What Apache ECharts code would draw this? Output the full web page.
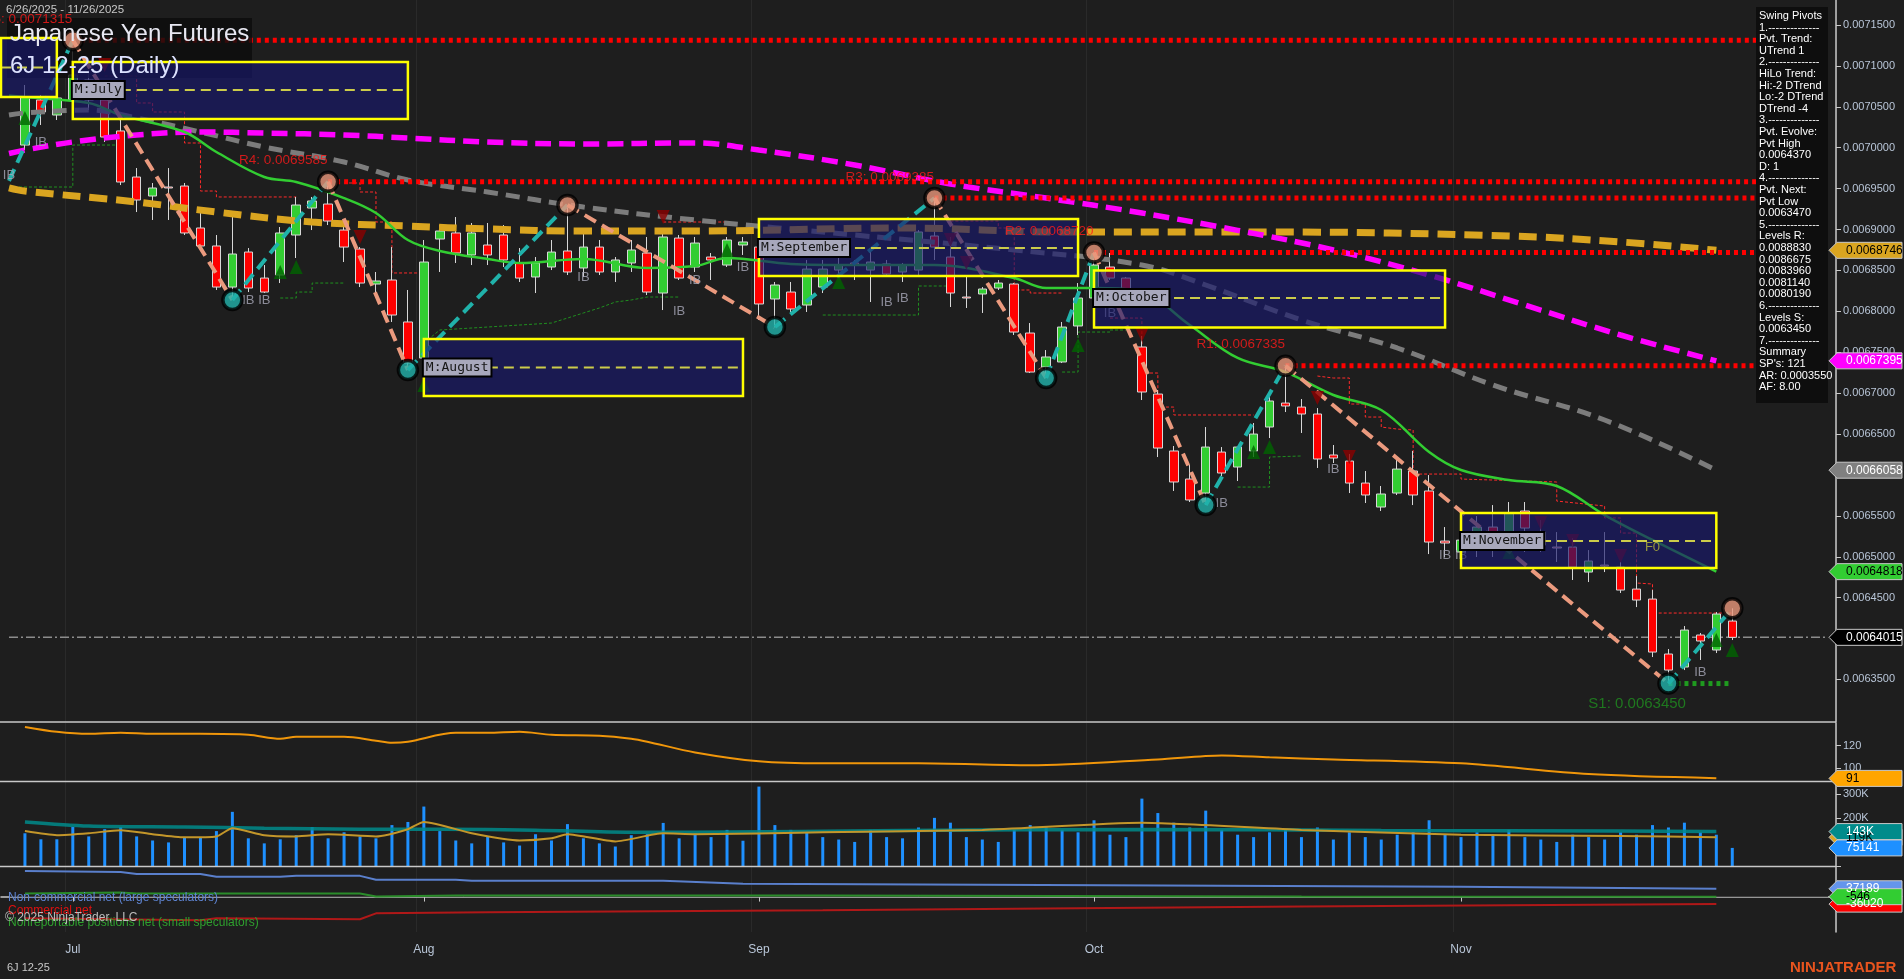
<!DOCTYPE html>
<html><head><meta charset="utf-8">
<script src="https://cdn.jsdelivr.net/npm/echarts@6/dist/echarts.min.js"></script>
<style>html,body{margin:0;padding:0;background:#1e1e1e;overflow:hidden}#c{width:1904px;height:979px}</style>
</head><body><div id="c"></div>
<script>
// ---------------- DATA (prices in units of 0.0000001) ----------------
const holidays = ['2025-07-04','2025-09-01','2025-11-27'];
const firstDay = '2025-06-26', lastDay = '2025-11-26';

const open = [70033,70584,70400,70584,70828,70584,70205,69642,69410,69520,
 69532,69019,68799,68297,68725,68407,68444,68933,69263,69312,
 68994,68762,68334,68383,67870,67429,68884,68958,68689,68811,
 68933,68591,68420,68542,68738,68530,68786,68481,68591,68713,
 68224,68896,68542,68664,68566,68811,68786,68151,68236,68077,
 68297,68505,68591,68505,68579,68481,68505,68921,68664,68175,
 68212,68285,68334,67735,67319,67381,67821,68163,68542,68407,
 67564,66989,66293,65950,65779,66280,66097,66293,66586,66879,
 66830,66745,66244,66170,65901,65608,65779,66048,65804,65192,
 65058,65119,65363,65119,65559,65302,65119,65119,64813,64899,
 64874,64605,64483,63811,63652,64043,63860,64214];
const close = [70620,70437,70608,70889,70584,70131,69581,69361,69508,69508,
 68958,68799,68297,68701,68285,68236,68958,69300,69349,69104,
 68786,68346,68371,67955,67368,68603,68982,68713,68958,68689,
 68628,68407,68591,68725,68481,68786,68481,68628,68750,68236,
 68909,68407,68835,68628,68872,68848,68090,68322,68029,68517,
 68517,68566,68566,68603,68456,68566,68970,68786,68224,68163,
 68273,68346,67747,67258,67442,67808,68163,68566,68407,68261,
 67014,66329,65914,65694,66341,66024,66341,66500,66904,66843,
 66745,66195,66207,65901,65755,65767,66072,65755,65180,65168,
 65204,65363,65143,65535,65351,65143,65107,64874,64948,64887,
 64593,64471,63835,63615,64104,63970,64300,64015];
const low = [69972,70278,70339,70522,70461,70070,69544,69214,69117,69117,
 68933,68786,68261,68139,68236,68224,68346,68652,68994,69055,
 68603,68297,68224,67870,67283,67330,68481,68591,68566,68566,
 68542,68359,68224,68505,68444,68420,68444,68359,68481,68200,
 68016,68383,68481,68383,68542,68689,67894,67808,67992,67992,
 68224,68420,68383,68114,68420,68359,68444,68628,68053,68041,
 67980,68261,67711,67246,67185,67368,67711,68077,68383,68175,
 66916,66219,65804,65669,65632,65987,65926,66219,66451,66769,
 66513,66085,66146,65779,65657,65559,65755,65632,65033,64997,
 64997,64997,64997,65058,65058,65058,64936,64716,64691,64813,
 64557,64385,63774,63450,63615,63738,63823,63982];
const high = [70767,70645,70706,71315,70950,70706,70339,69752,69569,69752,
 69569,69202,68933,69178,68774,68566,69031,69398,69398,69585,
 69031,68786,68481,68786,68261,68872,69055,69153,69080,69080,
 69055,68774,68664,68872,69300,68958,68872,68664,68872,68909,
 68958,68933,68909,68713,68909,68909,68872,68359,68359,68628,
 68628,68713,68628,68750,68628,68591,68994,69385,68909,68420,
 68297,68383,68346,67857,67527,67870,68346,68720,68713,68420,
 67700,67038,66354,66121,66586,66341,66341,66635,66953,67335,
 66928,66818,66366,66256,66048,65865,66182,66293,65999,65363,
 65266,65498,65632,65669,65669,65449,65302,65229,65082,65302,
 64936,64764,64593,63872,64153,64068,64324,64370];

// moving averages [bar, value]
const smaGreen = [[-1,70640],[0,70620],[4,70547],[6,70400],[10,70192],[12,69948],[15,69642],[17,69581],[20,69385],[22,69202],[24,68872],[26,68738],[29,68640],[31,68591],[35,68640],[39,68530],[42,68554],[44,68652],[48,68579],[52,68566],[57,68566],[62,68407],[64,68285],[67,68285],[70,68236],[73,67833],[76,67430],[79,67258],[82,66977],[85,66794],[88,66280],[90,66060],[93,65938],[96,65865],[99,65510],[102,65205],[106,64818]];
const maMagenta = [[-1,69930],[0,69972],[3,70070],[7,70156],[11,70192],[15,70180],[20,70156],[24,70119],[29,70070],[35,70046],[42,70058],[46,69972],[52,69789],[58,69557],[64,69385],[70,69202],[76,68990],[82,68750],[88,68444],[94,68077],[100,67711],[106,67395]];
const maGold = [[-1,69510],[0,69471],[7,69337],[12,69214],[18,69092],[24,69043],[29,69007],[35,68982],[42,68982],[55,69019],[65,68970],[78,68970],[93,68921],[100,68848],[106,68746]];
const maGrey = [[-1,70400],[0,70425],[4,70461],[7,70364],[11,70192],[15,70009],[20,69825],[24,69606],[29,69459],[35,69275],[42,69117],[52,68933],[62,68750],[70,68566],[74,68322],[80,67894],[86,67552],[92,67100],[99,66672],[106,66058]];

// swing pivots
const swingStart = [-1,69594];
const pivotHighs = [[3,71315],[19,69585],[34,69300],[57,69385],[67,68720],[79,67335],[107,64370]];
const pivotLows = [[13,68139],[24,67283],[47,67808],[64,67185],[74,65632],[103,63450]];

// support / resistance levels
const levelNames = ['R5','R4','R3','R2','R1','S1'];
const levelValues = [71315,69585,69385,68720,67335,63450];
const levelStartBar = [3,19,57,67,79,103];
const levelEndBar = [113,113,113,113,113,107];
const lastPrice = 64015;

// trailing stop steps
const redStops = [
 [[5,70877],[7,70877],[7,70547],[8,70547],[8,70437],[10,70437],[10,70058],[11,70058],[11,69471],[12,69471],[12,69398],[17,69398]],
 [[20,69569],[21,69569],[21,69459],[22,69459],[22,69092],[23,69092],[23,68469],[25,68469]],
 [[40,69092],[44,69092]],
 [[58,69104],[61,69104],[61,69019],[62,69019],[62,68261],[63,68261],[63,68224],[65,68224]],
 [[68,67918],[70,67918],[70,67246],[71,67246],[71,66830],[72,66830],[72,66733],[77,66733]],
 [[81,67209],[82,67185],[83,67185],[83,66867],[84,66867],[84,66708],[85,66708],[85,66586],[86,66561],[87,66549],[87,66011],[90,66011],[90,65950],[96,65914],[96,65681],[99,65620],[99,65474],[100,65474],[100,65290],[101,65290],[101,64679],[102,64667],[102,64312],[107,64312]]
];
const greenStops = [
 [[-1,69520],[3,69520],[3,70033],[6,70033]],
 [[16,68163],[17,68163],[17,68236],[18,68236],[18,68346],[20,68346]],
 [[25,67613],[26,67772],[33,67857],[34,67918],[35,67980],[36,68041],[37,68114],[38,68139],[39,68175],[41,68175]],
 [[50,67955],[56,67955],[56,68310],[58,68310]],
 [[65,67258],[66,67258],[66,67747],[68,67747],[68,67772],[69,67772]],
 [[76,65852],[78,65852],[78,66219],[80,66232]]
];
const triDown = [[5,71011],[21,68909],[40,69153],[58,68872],[59,68591],[70,67711],[81,66941],[83,66219],[95,65412],[97,65192],[100,65009]];
const triUp = [[0,70364],[16,68481],[17,68542],[25,67099],[44,68750],[51,68359],[66,67589],[77,66280],[78,66341],[93,65058],[106,63982],[107,63860]];
const ibMarks = [[1,70070],[-1,69667],[14,68139],[15,68139],[35,68420],[41,68004],[42,68383],[45,68542],[54,68114],[55,68163],[68,67980],[75,65657],[82,66072],[89,65021],[90,65021],[94,65119],[105,63591]];

// monthly boxes
const boxLabel = ['', 'M:July', 'M:August', 'M:September', 'M:October', 'M:November'];
const boxFirst = [-1, 3, 25, 46, 67, 90];
const boxLast = [2, 24, 45, 66, 89, 106];
const boxTop = [71341, 71048, 67662, 69129, 68499, 65535];
const boxBottom = [70620, 70351, 66965, 68432, 67802, 64862];
const boxMid = [70980, 70706, 67313, 68774, 68163, 65193];

// lower panel 1 (orange oscillator)
const osc = [[0,136.5],[2,132.2],[4,130.4],[6,131.3],[8,130.4],[11,130.4],[14,129.6],[16,126.1],[17,127.8],[20,127.8],[22,124.4],[23,122.6],[24,123.5],[27,131.3],[29,131.3],[31,132.2],[33,129.6],[36,128.7],[38,126.1],[39,123.5],[42,113.9],[46,106.1],[50,104.3],[56,104.3],[63,102.6],[71,107.8],[75,111.3],[78,109.6],[82,107.8],[90,104.3],[98,94.8],[106,91.2]];

// volume (thousands)
const volK = [136,111,111,162,123,153,162,123,106,98,
 119,119,145,225,115,94,111,128,162,115,
 140,123,115,170,183,247,145,106,94,123,
 98,85,132,106,174,115,94,81,128,132,
 179,115,136,120,150,105,330,170,150,140,
 120,110,100,150,120,115,160,200,180,120,
 110,100,150,170,160,150,140,190,130,120,
 280,220,180,160,230,150,130,120,140,150,
 120,160,110,140,120,110,130,140,190,130,
 120,140,130,150,120,110,100,130,120,110,
 140,130,170,160,180,140,130,75.141];
const volTeal = [[0,183],[4,166],[10,162],[15,157],[21,153],[26,153],[32,149],[38,140],[42,140],[55,148],[70,152],[85,148],[100,145],[106,143]];
const volGold = [[0,145],[2,128],[4,136],[6,149],[8,132],[10,119],[12,123],[13,157],[15,128],[17,123],[19,132],[22,123],[24,153],[25,183],[28,136],[31,106],[33,115],[34,132],[37,102],[40,136],[42,132],[50,140],[60,150],[70,180],[80,150],[90,130],[100,125],[106,119]];

// COT net positions (contracts)
const cotNonComm = [[0,122200],[6,117500],[7,108100],[11,108100],[12,94000],[16,94000],[17,98700],[21,98700],[22,79900],[27,79900],[28,75200],[40,75200],[45,61100],[60,56400],[75,51700],[90,47000],[106,37189]];
const cotNonRep = [[0,14100],[6,18800],[7,14100],[21,14100],[22,0],[27,4700],[50,4700],[80,0],[106,-546]];
const cotComm = [[0,-103400],[11,-112800],[12,-103400],[21,-108100],[22,-79900],[29,-75200],[50,-65800],[80,-47000],[106,-36020]];

const infoLines = ['Swing Pivots','1.--------------','Pvt. Trend:','UTrend 1','2.--------------','HiLo Trend:','Hi:-2 DTrend','Lo:-2 DTrend','DTrend -4','3.--------------','Pvt. Evolve:','Pvt High','0.0064370','D: 1','4.--------------','Pvt. Next:','Pvt Low','0.0063470','5.--------------','Levels R:','0.0088830','0.0086675','0.0083960','0.0081140','0.0080190','6.--------------','Levels S:','0.0063450','7.--------------','Summary',"SP's: 121",'AR: 0.0003550','AF: 8.00'];

// ---------------- BUILD ----------------
const NCAT = 115, OFF = 1;
const dates = [];
(function(){
  const d = new Date(firstDay + 'T00:00:00Z'), end = new Date(lastDay + 'T00:00:00Z');
  while (d <= end) {
    const s = d.toISOString().slice(0,10), wd = d.getUTCDay();
    if (wd > 0 && wd < 6 && holidays.indexOf(s) < 0) dates.push(s);
    d.setUTCDate(d.getUTCDate() + 1);
  }
})();
const cats = new Array(NCAT).fill('');
dates.forEach((d,i) => cats[i+OFF] = d);
const monthCats = new Set();
dates.forEach((d,i) => { if (i > 0 && d.slice(5,7) !== dates[i-1].slice(5,7)) monthCats.add(i+OFF); });
const MN = ['Jan','Feb','Mar','Apr','May','Jun','Jul','Aug','Sep','Oct','Nov','Dec'];
const isMonth = (i) => monthCats.has(i);
const fmtP = (v) => (v/1e7).toFixed(7);
const sh = (arr) => arr.map(p => [p[0]+OFF, p[1]]);

const AX = '#c8c8c8', LBL = '#b9c6d8';
const FN = '"Liberation Sans", Arial, sans-serif';
const grids = [
  {left:1, right:68, top:0, height:722},
  {left:1, right:68, top:723, height:58},
  {left:1, right:68, top:782, height:84},
  {left:1, right:68, top:867, height:65}
];
function xAx(gi, show) {
  return {type:'category', gridIndex:gi, data:cats, boundaryGap:true,
    axisLine:{show:show, lineStyle:{color:AX, width:1.5}},
    axisTick:{show:show, interval:isMonth, alignWithLabel:true, length:5, lineStyle:{color:AX}},
    axisLabel:{show:show, interval:isMonth, formatter:(v)=> v ? MN[+v.slice(5,7)-1] : '', color:LBL, fontSize:12, margin:12, fontFamily:FN},
    splitLine:{show:true, interval:isMonth, lineStyle:{color:'#2a2a2a', width:1}}};
}
function yAx(gi, min, max, labelVals, tickVals, fmt) {
  return {type:'value', gridIndex:gi, position:'right', min:min, max:max,
    axisLine:{show:true, onZero:false, lineStyle:{color:AX, width:1.5}},
    axisTick:{show:true, length:5, lineStyle:{color:AX}, customValues:tickVals},
    axisLabel:{show:labelVals.length>0, customValues:labelVals, formatter:fmt, color:LBL, fontSize:11, margin:7, fontFamily:FN},
    splitLine:{show:false}};
}
const priceTicks = [];
for (let v = 63500; v <= 71500; v += 500) priceTicks.push(v);

function line(data, color, width, type, z, gi, extra) {
  return Object.assign({type:'line', xAxisIndex:gi||0, yAxisIndex:gi||0, data:sh(data), symbol:'none', silent:true,
    lineStyle:{color:color, width:width, type:type}, z:z, animation:false}, extra||{});
}

const series = [];
series.push({type:'candlestick', xAxisIndex:0, yAxisIndex:0, barWidth:9, z:3, silent:true,
  data: dates.map((d,i) => [i+OFF, open[i], close[i], low[i], high[i]]),
  encode:{x:0, y:[1,2,3,4]},
  itemStyle:{color:'#32cd32', color0:'#ff0000', borderColor:'#d8d8d8', borderColor0:'#d8d8d8', borderWidth:1}});
redStops.forEach(s => series.push(line(s, '#ff2a2a', 1, [3,2], 2)));
greenStops.forEach(s => series.push(line(s, '#1f8f1f', 1, [3,2], 2)));
series.push(line(maGrey, '#7c7c7c', 5, [14,8], 4, 0, {smooth:0.4}));
series.push(line(maGold, '#daa520', 7, [18,9], 4, 0, {smooth:0.4}));
series.push(line(maMagenta, '#ff00ff', 5.5, [16,8], 4, 0, {smooth:0.4}));
series.push(line(smaGreen, '#32cd32', 2.5, 'solid', 5, 0, {smooth:0.35}));
series.push(line([[-1,lastPrice],[113,lastPrice]], '#8c8c8c', 1.5, [9,3,2,3], 2));
levelValues.forEach((v,k) => {
  const c = levelNames[k][0] === 'S' ? '#1f9a1f' : '#ff0000';
  series.push(line([[levelStartBar[k], v],[levelEndBar[k], v]], c, 5, [4,4], 4));
});
series.push({type:'scatter', xAxisIndex:0, yAxisIndex:0, z:9, silent:true, symbolSize:1, itemStyle:{color:'rgba(0,0,0,0)'},
  data: levelValues.map((v,k) => ({value:[levelStartBar[k]+OFF, v],
    label:{show:true, position:'left', distance:0, offset: levelNames[k][0]==='S' ? [18,20] : [0,-21],
      formatter: levelNames[k] + ': ' + fmtP(v), color: levelNames[k][0]==='S' ? '#1f8f1f' : '#ff1a1a',
      fontSize: levelNames[k][0]==='S' ? 15 : 13.5, fontFamily:FN}}))});
const seq = [];
for (let k = 0; k < pivotHighs.length; k++) { seq.push(pivotHighs[k]); if (k < pivotLows.length) seq.push(pivotLows[k]); }
const path = [swingStart].concat(seq);
for (let k = 0; k < path.length - 1; k++) {
  const up = path[k+1][1] > path[k][1];
  series.push(line([path[k], path[k+1]], up ? '#20b2aa' : '#eb9a7e', 4, [13,7], 5));
}
series.push({type:'scatter', xAxisIndex:0, yAxisIndex:0, z:6, silent:true, symbol:'triangle', symbolSize:[13,14],
  itemStyle:{color:'#006400'}, data: sh(triUp)});
series.push({type:'scatter', xAxisIndex:0, yAxisIndex:0, z:6, silent:true, symbol:'triangle', symbolRotate:180, symbolSize:[13,14],
  itemStyle:{color:'#8b0000'}, data: sh(triDown)});
series.push({type:'scatter', xAxisIndex:0, yAxisIndex:0, z:6, silent:true, symbolSize:1, itemStyle:{color:'rgba(0,0,0,0)'},
  label:{show:true, position:'inside', formatter:'IB', color:'#a8a8b8', fontSize:13, fontFamily:FN}, data: sh(ibMarks)});
series.push({type:'scatter', xAxisIndex:0, yAxisIndex:0, z:7, silent:true, symbolSize:19,
  itemStyle:{color:'#e9967a', borderColor:'#000', borderWidth:3.5}, data: sh(pivotHighs)});
series.push({type:'scatter', xAxisIndex:0, yAxisIndex:0, z:7, silent:true, symbolSize:19,
  itemStyle:{color:'#20b2aa', borderColor:'#000', borderWidth:3.5}, data: sh(pivotLows)});
series.push({type:'scatter', xAxisIndex:0, yAxisIndex:0, z:9, silent:true, symbolSize:1, itemStyle:{color:'rgba(0,0,0,0)'},
  label:{show:true, position:'inside', formatter:'F0', color:'#b8b83a', fontSize:13, fontFamily:FN}, data:[[103, 65119]]});
series.push({type:'custom', xAxisIndex:0, yAxisIndex:0, z:8, silent:true,
  encode:{x:[0,1], y:[2,3,4]},
  data: boxLabel.map((l,i) => [boxFirst[i]+OFF, boxLast[i]+OFF, boxTop[i], boxBottom[i], boxMid[i]]),
  renderItem: function(params, api) {
    const i = params.dataIndex, cs = params.coordSys;
    const pTL = api.coord([api.value(0), api.value(2)]);
    const pBR = api.coord([api.value(1), api.value(3)]);
    const pm = api.coord([api.value(0), api.value(4)]);
    const left = boxFirst[i] < 0 ? cs.x : pTL[0], right = pBR[0];
    const ch = [
      {type:'rect', shape:{x:left, y:pTL[1], width:right-left, height:pBR[1]-pTL[1]}, style:{fill:'rgba(24,24,108,0.66)'}},
      {type:'line', shape:{x1:left, y1:pm[1], x2:right, y2:pm[1]}, style:{stroke:'#cccc4a', lineWidth:2, lineDash:[10,6]}},
      {type:'rect', shape:{x:left, y:pTL[1], width:right-left, height:pBR[1]-pTL[1]}, style:{fill:null, stroke:'#ffff00', lineWidth:2.5}}
    ];
    if (boxLabel[i]) ch.push({type:'text', x:left, y:pm[1], style:{text:boxLabel[i], fill:'#151515',
      font:'13px "DejaVu Sans Mono", monospace', backgroundColor:'#a8a8bc', borderColor:'#000', borderWidth:2,
      padding:[2,2,1,2], verticalAlign:'middle', align:'left'}});
    return {type:'group', children:ch};
  }});
series.push(line(osc, '#f0960a', 2, 'solid', 3, 1, {smooth:0.3}));
series.push({type:'bar', xAxisIndex:2, yAxisIndex:2, barWidth:3, silent:true, z:2, itemStyle:{color:'#1e90ff'},
  data: volK.map((v,i) => [i+OFF, v])});
series.push(line(volTeal, 'rgba(0,139,139,0.85)', 3.5, 'solid', 3, 2, {smooth:0.3}));
series.push(line(volGold, '#c3962a', 2, 'solid', 4, 2, {smooth:0.2}));
series.push(line([[-1,0],[113,0]], '#3a3a3a', 1, 'solid', 1, 3));
series.push(line(cotNonComm, '#5a7fcc', 2, 'solid', 3, 3));
series.push(line(cotNonRep, '#2a8c2a', 2, 'solid', 3, 3));
series.push(line(cotComm, '#b01818', 2, 'solid', 3, 3));

const option = {
  backgroundColor:'#1e1e1e', animation:false,
  grid: grids,
  xAxis: [xAx(0,false), xAx(1,false), xAx(2,false), xAx(3,true)],
  yAxis: [
    yAx(0, 62980, 71806, priceTicks, priceTicks, fmtP),
    yAx(1, 88.7, 140, [100,120], [100,120], (v)=>String(v)),
    yAx(2, 0, 349, [200,300], [0,100,200,300], (v)=>v+'K'),
    yAx(3, -169000, 141000, [], [], (v)=>v)
  ],
  series: series
};
const chart = echarts.init(document.getElementById('c'), null, {width:1904, height:979});
chart.setOption(option);

// ---------------- STATIC GRAPHICS ----------------
const G = [];
[722, 781.5, 866.5].forEach(y => G.push({type:'line', shape:{x1:0, y1:y, x2:1836, y2:y}, style:{stroke:'#c8c8c8', lineWidth:1.5}, z:20}));
G.push({type:'rect', shape:{x:7, y:18, width:245, height:60}, style:{fill:'rgba(12,12,12,0.82)'}, z:4.5});
G.push({type:'text', x:6, y:4, style:{text:'6/26/2025 - 11/26/2025', fill:'#c8c8c8', font:'11.5px '+FN}, z:60});
G.push({type:'text', x:10, y:22, style:{text:'Japanese Yen Futures', fill:'#e8e8f2', font:'24px '+FN}, z:60});
G.push({type:'text', x:10, y:54, style:{text:'6J 12-25 (Daily)', fill:'#dde2ff', font:'24px '+FN}, z:60});
G.push({type:'rect', shape:{x:1756, y:7, width:72, height:396}, style:{fill:'#0e0e0e'}, z:50});
infoLines.forEach((t,k) => G.push({type:'text', x:1759, y:16 + k*11.6, style:{text:t, fill:'#ffffff', font:'11px '+FN, verticalAlign:'middle'}, z:51}));
G.push({type:'text', x:8, y:898, style:{text:'Non-commercial net (large speculators)', fill:'#5f86d6', font:'12px '+FN, verticalAlign:'middle'}, z:30});
G.push({type:'text', x:8, y:911, style:{text:'Commercial net', fill:'#e01010', font:'12px '+FN, verticalAlign:'middle'}, z:30});
G.push({type:'text', x:8, y:923, style:{text:'Nonreportable positions net (small speculators)', fill:'#2ea02e', font:'12px '+FN, verticalAlign:'middle'}, z:30});
G.push({type:'text', x:5, y:918, style:{text:'\u00a9 2025 NinjaTrader, LLC', fill:'#bdbdbd', font:'12px '+FN, verticalAlign:'middle'}, z:31});
G.push({type:'text', x:7, y:968, style:{text:'6J 12-25', fill:'#c8c8c8', font:'11px '+FN, verticalAlign:'middle'}, z:30});
G.push({type:'text', x:1790, y:968, style:{text:'NINJATRADER', fill:'#e8541e', font:'bold 15px '+FN, verticalAlign:'middle'}, z:30});

function tag(ax, value, text, bg, fg) {
  const y = chart.convertToPixel({yAxisIndex:ax}, value);
  return [
    {type:'polygon', shape:{points:[[1829,y],[1837,y-8],[1902,y-8],[1902,y+8],[1837,y+8]]}, style:{fill:bg, stroke:'#c8c8c8', lineWidth:1}, z:70},
    {type:'text', x:1846, y:y, style:{text:text, fill:fg, font:'12px '+FN, verticalAlign:'middle'}, z:71}
  ];
}
const tags = [].concat(
  tag(0, 68746, '0.0068746', '#daa520', '#000'),
  tag(0, 67395, '0.0067395', '#ff00ff', '#fff'),
  tag(0, 66058, '0.0066058', '#808080', '#fff'),
  tag(0, 64818, '0.0064818', '#32cd32', '#000'),
  tag(0, lastPrice, fmtP(lastPrice), '#000000', '#fff'),
  tag(1, 91, '91', '#ffa500', '#000'),
  tag(2, 119, '119K', '#daa520', '#000'),
  tag(2, 75.141, '75141', '#1e90ff', '#fff'),
  tag(2, 143, '143K', '#008b8b', '#fff'),
  tag(3, 37189, '37189', '#6495ed', '#fff'),
  tag(3, -36020, '-36020', '#ff0000', '#fff'),
  tag(3, -546, '-546', '#32cd32', '#000')
);
chart.setOption({graphic: G.concat(tags)});
</script></body></html>
